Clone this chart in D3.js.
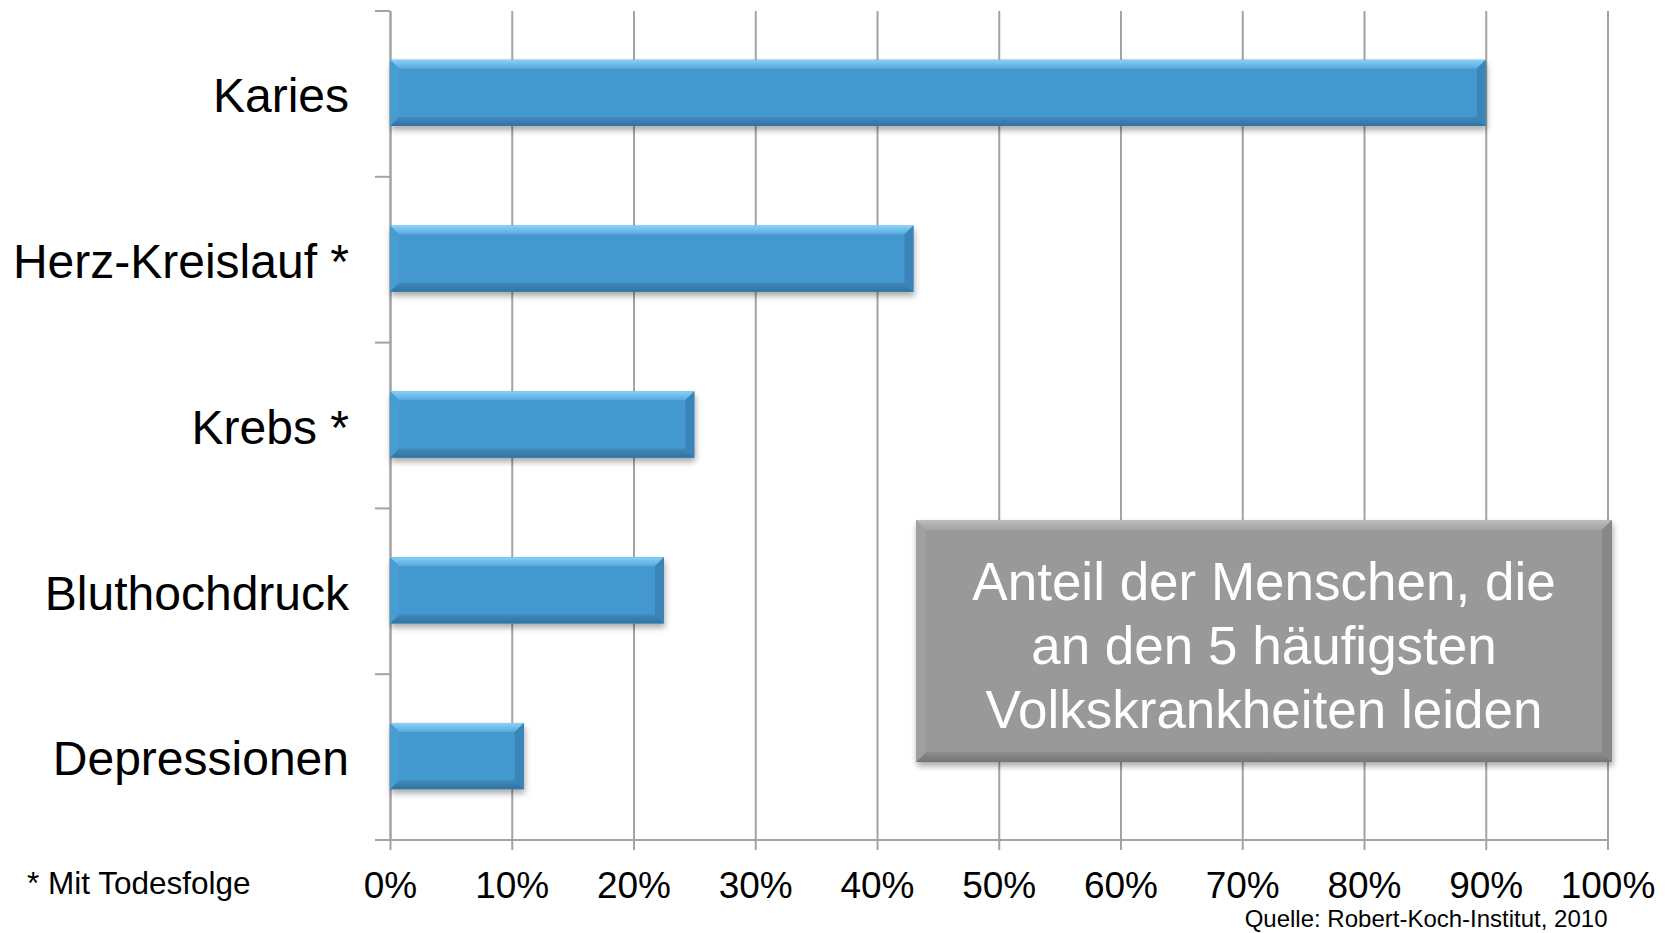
<!DOCTYPE html>
<html>
<head>
<meta charset="utf-8">
<script src="https://cdn.jsdelivr.net/npm/d3@7"></script>
<style>
  body { margin: 0; background: #fff; }
  svg { display: block; font-family: "Liberation Sans", Arial, sans-serif; }
</style>
</head>
<body>
<div id="chart"></div>
<script>
var categories = ['Karies', 'Herz-Kreislauf *', 'Krebs *', 'Bluthochdruck', 'Depressionen'];
var values = [90, 43, 25, 22.5, 11];
var ticks = [0, 10, 20, 30, 40, 50, 60, 70, 80, 90, 100];
var boxLines = ['Anteil der Menschen, die', 'an den 5 häufigsten', 'Volkskrankheiten leiden'];
var footnote = '* Mit Todesfolge';
var source = 'Quelle: Robert-Koch-Institut, 2010';

var W = 1666, H = 933;
var plotLeft = 390, plotRight = 1607.5, plotTop = 11, plotBottom = 840;

var svg = d3.select('#chart').append('svg')
    .attr('width', W)
    .attr('height', H);

var defs = svg.append('defs');
var f = defs.append('filter').attr('id', 'shadow')
    .attr('x', '-10%').attr('y', '-20%').attr('width', '120%').attr('height', '160%');
f.append('feGaussianBlur').attr('in', 'SourceAlpha').attr('stdDeviation', 3);
f.append('feOffset').attr('dx', 1).attr('dy', 4).attr('result', 'b');
f.append('feComponentTransfer').append('feFuncA').attr('type', 'linear').attr('slope', 0.35);
var m = f.append('feMerge');
m.append('feMergeNode');
m.append('feMergeNode').attr('in', 'SourceGraphic');

function vgrad(id, c0, c1) {
    var g = defs.append('linearGradient').attr('id', id)
        .attr('x1', 0).attr('y1', 0).attr('x2', 0).attr('y2', 1);
    g.append('stop').attr('offset', 0).attr('stop-color', c0);
    g.append('stop').attr('offset', 1).attr('stop-color', c1);
}
vgrad('topBlue', '#8bd0f7', '#55a9dc');
vgrad('botBlue', '#3f89bb', '#33729f');
vgrad('topGray', '#bdbdbd', '#a2a2a2');
vgrad('botGray', '#8c8c8c', '#757575');

var x = d3.scaleLinear().domain([0, 100]).range([plotLeft, plotRight]);
var y = d3.scaleBand().domain(categories).range([plotTop, plotBottom]);

// gridlines + x axis
var gx = svg.append('g')
    .attr('transform', `translate(0,${plotBottom})`)
    .call(d3.axisBottom(x).tickValues(ticks).tickFormat(d => d + '%')
        .tickSizeInner(10).tickSizeOuter(0).tickPadding(21));
gx.select('.domain').remove();
gx.selectAll('line').attr('stroke', '#a3a3a3').attr('stroke-width', 2)
    .attr('y1', -(plotBottom - plotTop));
gx.selectAll('text').attr('font-size', 37).attr('fill', '#000')
    .attr('dy', '0.72em');

svg.append('line')
    .attr('x1', plotLeft - 15).attr('x2', plotRight)
    .attr('y1', plotBottom).attr('y2', plotBottom)
    .attr('stroke', '#a3a3a3').attr('stroke-width', 2);

// y axis
var gy = svg.append('g')
    .attr('transform', `translate(${plotLeft},0)`)
    .call(d3.axisLeft(y).tickSize(0).tickPadding(41));
gy.select('.domain').attr('stroke', '#a3a3a3').attr('stroke-width', 2);
gy.selectAll('text').attr('font-size', 48).attr('fill', '#000').attr('dy', '0.38em');

var bounds = categories.map(c => y(c)).concat([plotBottom]);
svg.append('g').selectAll('line').data(bounds).join('line')
    .attr('x1', plotLeft - 15).attr('x2', plotLeft)
    .attr('y1', d => d).attr('y2', d => d)
    .attr('stroke', '#a3a3a3').attr('stroke-width', 2);

// bevelled bars
function bevel(g, x0, y0, x1, y1, b, c) {
    g.append('rect').attr('x', x0).attr('y', y0).attr('width', x1 - x0).attr('height', y1 - y0)
        .attr('fill', c.main).attr('filter', 'url(#shadow)');
    var polys = [
        [[[x0, y0], [x1, y0], [x1 - b, y0 + b], [x0 + b, y0 + b]], c.top],
        [[[x0, y1], [x1, y1], [x1 - b, y1 - b], [x0 + b, y1 - b]], c.bottom],
        [[[x0, y0], [x0 + b, y0 + b], [x0 + b, y1 - b], [x0, y1]], c.left],
        [[[x1, y0], [x1 - b, y0 + b], [x1 - b, y1 - b], [x1, y1]], c.right]
    ];
    polys.forEach(p => g.append('polygon')
        .attr('points', p[0].map(q => q.join(',')).join(' '))
        .attr('fill', p[1]));
}

var barH = y.bandwidth() * 0.4;
var bars = svg.append('g');
categories.forEach(function (c, i) {
    var y0 = y(c) + (y.bandwidth() - barH) / 2 - 1;
    bevel(bars.append('g'), x(0), y0, x(values[i]), y0 + barH, 9, {
        main: '#4398cf', top: 'url(#topBlue)', bottom: 'url(#botBlue)',
        left: '#479cd3', right: '#3a84b7'
    });
});

// info box
var bx0 = 916, by0 = 520, bx1 = 1612, by1 = 762;
bevel(svg.append('g'), bx0, by0, bx1, by1, 10, {
    main: '#999999', top: 'url(#topGray)', bottom: 'url(#botGray)', left: '#a0a0a0', right: '#878787'
});
svg.append('g').selectAll('text').data(boxLines).join('text')
    .attr('x', (bx0 + bx1) / 2)
    .attr('y', (d, i) => 600 + i * 64)
    .attr('text-anchor', 'middle')
    .attr('font-size', 53)
    .attr('fill', '#fff')
    .text(d => d);

svg.append('text')
    .attr('x', 27).attr('y', 894)
    .attr('font-size', 31.5)
    .text(footnote);

svg.append('text')
    .attr('x', plotRight).attr('y', 927)
    .attr('text-anchor', 'end')
    .attr('font-size', 24)
    .text(source);
</script>
</body>
</html>
